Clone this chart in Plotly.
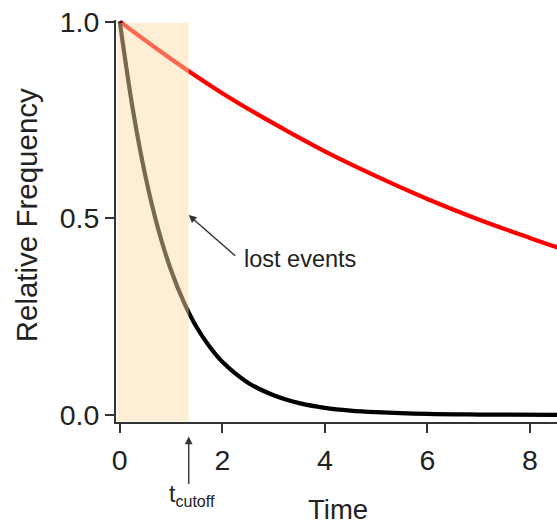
import plotly.graph_objects as go

# Relative frequency of two decaying populations over time
time_red = [0, 1, 2, 3, 4, 5, 6, 7, 8, 8.6]
freq_red = [1.0, 0.905, 0.818, 0.741, 0.670, 0.607, 0.549, 0.497, 0.450, 0.423]

time_black = [0, 0.25, 0.5, 0.75, 1.0, 1.25, 1.5, 1.75, 2.0, 2.5, 3.0, 3.5,
              4.0, 4.5, 5.0, 6.0, 7.0, 8.6]
freq_black = [1.0, 0.78, 0.607, 0.472, 0.368, 0.287, 0.223, 0.174, 0.135, 0.082,
              0.050, 0.030, 0.018, 0.011, 0.007, 0.0025, 0.001, 0.0002]

t_cutoff = 1.345
x_ticks = [0, 2, 4, 6, 8]
y_ticks = [0.0, 0.5, 1.0]
y_tick_text = ["0.0", "0.5", "1.0"]

FONT = "Liberation Sans, Arial, Helvetica, sans-serif"
AXIS_COLOR = "#333333"
TEXT_COLOR = "#222222"

fig = go.Figure()
fig.add_trace(go.Scatter(
    x=time_red, y=freq_red, mode="lines",
    line=dict(color="#ff0000", width=4.2, shape="spline"),
    hoverinfo="skip", showlegend=False,
))
fig.add_trace(go.Scatter(
    x=time_black, y=freq_black, mode="lines",
    line=dict(color="#000000", width=4.2, shape="spline"),
    hoverinfo="skip", showlegend=False,
))

# translucent band over the early (lost) interval
fig.add_shape(
    type="rect", xref="x", yref="y",
    x0=-0.05, x1=t_cutoff, y0=-0.016, y1=0.997,
    fillcolor="rgba(250,219,167,0.48)", line=dict(width=0),
    layer="above",
)

annotations = [
    # arrow pointing to the shaded region
    dict(x=t_cutoff, y=0.508, xref="x", yref="y", text="",
         showarrow=True, ax=48, ay=42, arrowhead=2, arrowsize=1.1,
         arrowwidth=1.4, arrowcolor="#333333"),
    dict(x=2.39, y=0.396, xref="x", yref="y", text="lost events",
         showarrow=False, xanchor="left", yanchor="middle",
         font=dict(size=23.5, color=TEXT_COLOR, family=FONT)),
    # cutoff marker below the time axis
    dict(x=t_cutoff, y=-0.036, xref="x", yref="paper", text="",
         showarrow=True, ax=0, ay=49, arrowhead=2, arrowsize=1.1,
         arrowwidth=1.4, arrowcolor="#333333"),
    dict(x=1.40, y=-0.182, xref="x", yref="paper", text="t<sub>cutoff</sub>",
         showarrow=False, xanchor="center", yanchor="middle",
         font=dict(size=23, color=TEXT_COLOR, family=FONT)),
    # axis titles
    dict(x=-0.201, y=0.515, xref="paper", yref="paper", text="Relative Frequency",
         showarrow=False, textangle=-90, xanchor="center", yanchor="middle",
         font=dict(size=29.5, color=TEXT_COLOR, family=FONT)),
    dict(x=0.504, y=-0.217, xref="paper", yref="paper", text="Time",
         showarrow=False, xanchor="center", yanchor="middle",
         font=dict(size=27.5, color=TEXT_COLOR, family=FONT)),
]

fig.update_layout(
    width=557, height=524,
    margin=dict(l=115.5, r=0, t=20, b=102),
    paper_bgcolor="white", plot_bgcolor="white",
    annotations=annotations,
    font=dict(family=FONT, color=TEXT_COLOR),
)
fig.update_xaxes(
    range=[-0.074, 8.53], tickmode="array", tickvals=x_ticks,
    ticks="outside", ticklen=9, tickwidth=2, tickcolor=AXIS_COLOR,
    showline=True, linecolor=AXIS_COLOR, linewidth=2,
    showgrid=False, zeroline=False, ticklabelstandoff=3,
    tickfont=dict(size=28.5, color=TEXT_COLOR, family=FONT),
)
fig.update_yaxes(
    range=[-0.018, 1.004], tickmode="array", tickvals=y_ticks, ticktext=y_tick_text,
    ticks="outside", ticklen=9, tickwidth=2, tickcolor=AXIS_COLOR,
    showline=True, linecolor=AXIS_COLOR, linewidth=2,
    showgrid=False, zeroline=False,
    tickfont=dict(size=28.5, color=TEXT_COLOR, family=FONT),
)

fig.write_html("out.html")
